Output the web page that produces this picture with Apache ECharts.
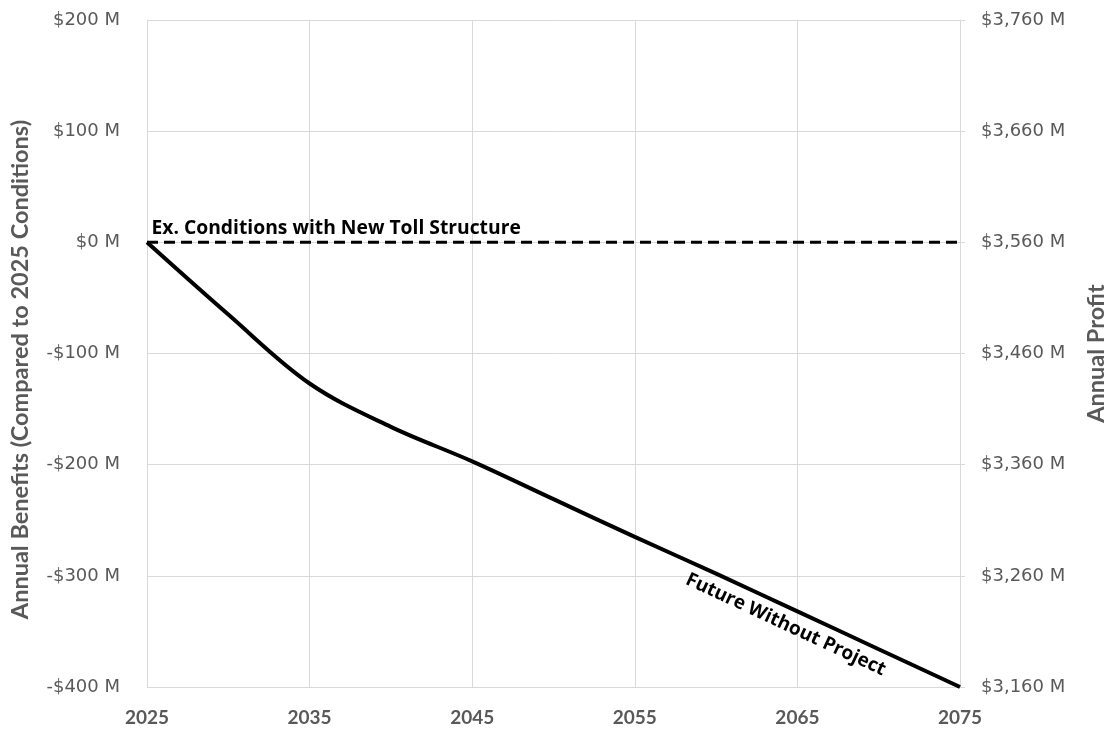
<!DOCTYPE html>
<html>
<head>
<meta charset="utf-8">
<script src="https://cdn.jsdelivr.net/npm/echarts@6/dist/echarts.min.js"></script>
<style>
  html, body { margin: 0; padding: 0; background: #ffffff; }
  #chart { width: 1108px; height: 729px; }
</style>
</head>
<body>
<div id="chart"></div>
<script>
// Year axis runs annually; labels every ten years
const firstYear = 2025;
const lastYear = 2075;
const years = [];
for (let y = firstYear; y <= lastYear; y++) years.push(String(y));

// Future Without Project: annual benefits vs. 2025 conditions ($M)
const futureYears = ['2025', '2030', '2035', '2040', '2045', '2050', '2055', '2060', '2065', '2070', '2075'];
const futureWithoutProject = [0, -65, -127, -166, -197, -231, -265, -298, -332, -366, -400];

// Existing conditions with the new toll structure ($M)
const existingYears = ['2025', '2075'];
const existingWithToll = [0, 0];

// Left axis range ($M) and the annual profit that corresponds to $0 M
const benefitMin = -400;
const benefitMax = 200;
const benefitStep = 100;
const profitAtZero = 3560;

const grey = '#595959';
const gridGrey = '#d9d9d9';
const labelFont = 'DejaVu Sans';
const noteFont = 'Open Sans';
const titleFont = 'Lato';

function benefitLabel(v) {
  return (v < 0 ? '-$' : '$') + Math.abs(v) + ' M';
}
function profitLabel(v) {
  return '$' + (v + profitAtZero).toLocaleString('en-US') + ' M';
}

const chart = echarts.init(document.getElementById('chart'), null, { renderer: 'canvas' });

chart.setOption({
  animation: false,
  backgroundColor: '#ffffff',
  grid: { left: 147, right: 148, top: 20, bottom: 42, outerBoundsMode: 'none', containLabel: false },
  xAxis: {
    type: 'category',
    data: years,
    boundaryGap: false,
    axisLine: { show: true, lineStyle: { color: gridGrey, width: 1 } },
    axisTick: { show: false },
    axisLabel: {
      interval: 9,
      color: grey,
      fontFamily: titleFont,
      fontWeight: 'bold',
      fontSize: 19,
      margin: 21
    },
    splitLine: { show: true, interval: 9, lineStyle: { color: gridGrey, width: 1 } }
  },
  yAxis: [
    {
      type: 'value',
      position: 'left',
      min: benefitMin,
      max: benefitMax,
      interval: benefitStep,
      axisLine: { show: true, lineStyle: { color: gridGrey, width: 1 } },
      axisTick: { show: false },
      axisLabel: {
        formatter: benefitLabel,
        color: grey,
        fontFamily: labelFont,
        fontSize: 18,
        margin: 27
      },
      splitLine: { show: true, lineStyle: { color: gridGrey, width: 1 } },
      name: 'Annual Benefits (Compared to 2025 Conditions)',
      nameLocation: 'middle',
      nameRotate: 90,
      nameGap: 115,
      nameTextStyle: {
        color: grey,
        fontFamily: titleFont,
        fontWeight: 'bold',
        fontSize: 23.5,
        padding: [0, 32, 0, 0]
      }
    },
    {
      type: 'value',
      position: 'right',
      min: benefitMin,
      max: benefitMax,
      interval: benefitStep,
      axisLine: { show: true, lineStyle: { color: gridGrey, width: 1 } },
      axisTick: { show: true, length: 5, lineStyle: { color: gridGrey } },
      axisLabel: {
        formatter: profitLabel,
        color: grey,
        fontFamily: labelFont,
        fontSize: 18,
        margin: 21
      },
      splitLine: { show: false },
      name: 'Annual Profit',
      nameLocation: 'middle',
      nameRotate: 90,
      nameGap: 124,
      nameTextStyle: {
        color: grey,
        fontFamily: titleFont,
        fontWeight: 'bold',
        fontSize: 23.5
      }
    }
  ],
  series: [
    {
      name: 'Ex. Conditions with New Toll Structure',
      type: 'line',
      yAxisIndex: 0,
      data: existingYears.map((y, i) => [y, existingWithToll[i]]),
      symbol: 'none',
      lineStyle: { color: '#000000', width: 3, type: [11, 6] },
      z: 3,
      markPoint: {
        symbol: 'circle',
        symbolSize: 1,
        itemStyle: { color: 'rgba(0,0,0,0)' },
        label: {
          show: true,
          position: [5, -4],
          align: 'left',
          verticalAlign: 'bottom',
          color: '#000000',
          fontFamily: noteFont,
          fontWeight: 'bold',
          fontSize: 19.3,
          formatter: 'Ex. Conditions with New Toll Structure'
        },
        data: [{ coord: [existingYears[0], existingWithToll[0]] }]
      }
    },
    {
      name: 'Future Without Project',
      type: 'line',
      yAxisIndex: 0,
      data: futureYears.map((y, i) => [y, futureWithoutProject[i]]),
      symbol: 'none',
      smooth: 0.35,
      lineStyle: { color: '#000000', width: 4 },
      z: 4,
      markPoint: {
        symbol: 'circle',
        symbolSize: 1,
        itemStyle: { color: 'rgba(0,0,0,0)' },
        label: {
          show: true,
          position: 'inside',
          rotate: -25,
          offset: [-5, 17],
          align: 'center',
          verticalAlign: 'middle',
          color: '#000000',
          fontFamily: noteFont,
          fontWeight: 'bold',
          fontSize: 19,
          formatter: 'Future Without Project'
        },
        data: [{ coord: [futureYears[8], futureWithoutProject[8]] }]
      }
    }
  ]
});
</script>
</body>
</html>
